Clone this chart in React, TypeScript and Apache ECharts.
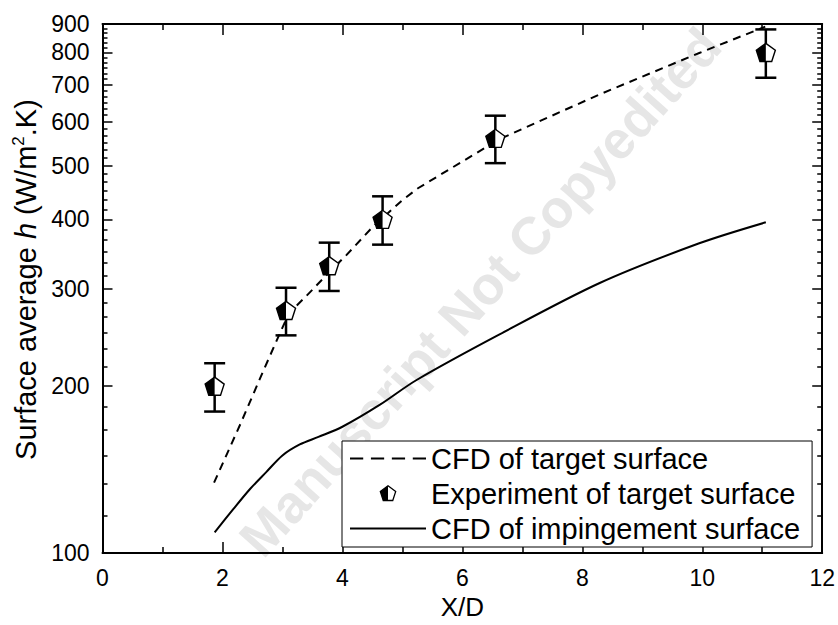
import React, { useEffect, useRef } from "react";
import * as echarts from "echarts";

const FONT = '"Liberation Sans", Arial, Helvetica, sans-serif';

// Experiment of target surface (X/D, h, error)
const X_EXP = [1.87, 3.06, 3.78, 4.67, 6.55, 11.06];
const H_EXP = [200, 274, 330, 400, 560, 800];
const ERR_EXP = [20, 27, 33, 40, 55, 80];

// CFD of target surface
const X_CFD_TARGET = [1.86, 2.3, 2.68, 2.95, 3.07, 3.23, 3.4, 3.78, 4.07, 4.51, 5.0, 5.26, 6.62, 8.29, 9.95, 11.05];
const H_CFD_TARGET = [134, 171, 213, 248, 265, 279, 291, 321, 345, 388, 433, 455, 558, 672, 798, 890];

// CFD of impingement surface
const X_CFD_IMP = [1.87, 2.18, 2.46, 2.73, 3.0, 3.29, 3.6, 4.0, 4.62, 5.23, 6.62, 8.29, 9.95, 11.06];
const H_CFD_IMP = [109, 120, 130.5, 140, 150, 157, 162, 169, 185, 205, 248, 307, 362, 395];

const Y_TICKS = [100, 200, 300, 400, 500, 600, 700, 800, 900];
const X_MIN = 0;
const X_MAX = 12;
const X_STEP = 2;

const lg = (v: number) => Math.log10(v);

const LEGEND_NAMES = ["CFD of target surface", "Experiment of target surface", "CFD of impingement surface"];

const pentSvg =
  '<svg xmlns="http://www.w3.org/2000/svg" width="20" height="20" viewBox="0 0 20 20">' +
  '<polygon points="10,1.5 18.56,7.72 15.29,17.78 4.71,17.78 1.44,7.72" fill="#fff" stroke="none"/>' +
  '<polygon points="10,1.5 1.44,7.72 4.71,17.78 10,17.78" fill="#000"/>' +
  '<polygon points="10,1.5 18.56,7.72 15.29,17.78 4.71,17.78 1.44,7.72" fill="none" stroke="#000" stroke-width="1.4"/>' +
  "</svg>";
const PENT_ICON = "image://data:image/svg+xml;charset=utf-8," + encodeURIComponent(pentSvg);
const DASH_ICON = "path://M0,0h12v2h-12z M19,0h12v2h-12z M38,0h12v2h-12z M57,0h12v2h-12z";
const SOLID_ICON = "path://M0,0h69v2h-69z";

export default function App() {
  const ref = useRef<HTMLDivElement>(null);

  useEffect(() => {
    const chart = echarts.init(ref.current!, null, { renderer: "svg" });
    const yMin = lg(Y_TICKS[0]);
    const yMax = lg(Y_TICKS[Y_TICKS.length - 1]);
    const majorY = Y_TICKS.map(lg);
    const minorY: number[] = [];
    for (let i = 0; i < Y_TICKS.length - 1; i++) {
      const step = (Y_TICKS[i + 1] - Y_TICKS[i]) / 6;
      for (let k = 1; k < 6; k++) minorY.push(lg(Y_TICKS[i] + k * step));
    }

    const axisLineStyle = { color: "#000", width: 2 };
    const tickStyle = { color: "#000", width: 1.5 };

    const yBase = (pos: string) => ({
      type: "value",
      position: pos,
      min: yMin,
      max: yMax,
      splitLine: { show: false },
      minorSplitLine: { show: false },
    });

    const xBase = (pos: string) => ({
      type: "value",
      position: pos,
      min: X_MIN,
      max: X_MAX,
      interval: X_STEP,
      splitLine: { show: false },
      axisLine: { show: true, lineStyle: axisLineStyle },
      axisTick: { show: true, inside: true, length: 11, lineStyle: tickStyle },
      minorTick: { show: true, splitNumber: 2, length: 6, lineStyle: tickStyle },
    });

    const option: any = {
      animation: false,
      backgroundColor: "#fff",
      textStyle: { fontFamily: FONT },
      grid: { left: 102.5, right: 15, top: 24, bottom: 67, containLabel: false },
      graphic: [
        {
          type: "text",
          x: 480,
          y: 292,
          rotation: (48 * Math.PI) / 180,
          silent: true,
          z: 0,
          style: {
            text: "Manuscript Not Copyedited",
            fontSize: 53,
            fontWeight: "bold",
            fontFamily: FONT,
            fill: "#e6e6e6",
            align: "center",
            verticalAlign: "middle",
          },
        },
      ],
      xAxis: [
        {
          ...xBase("bottom"),
          axisLabel: { show: true, fontSize: 23, color: "#000", margin: 13, fontFamily: FONT },
          name: "X/D",
          nameLocation: "middle",
          nameGap: 39,
          nameTextStyle: { fontSize: 26, color: "#000", fontFamily: FONT },
        },
        {
          ...xBase("top"),
          axisLabel: { show: false },
        },
      ],
      yAxis: [
        {
          ...yBase("left"),
          axisLine: { show: true, lineStyle: axisLineStyle },
          axisTick: { show: true, inside: true, length: 10, customValues: majorY, lineStyle: tickStyle },
          axisLabel: {
            show: true,
            customValues: majorY,
            formatter: (v: number) => String(Math.round(Math.pow(10, v))),
            fontSize: 23,
            color: "#000",
            margin: 13,
            fontFamily: FONT,
          },
          name: "{a|Surface average }{i|h}{a| (W/m}{s|2}{a|.K)}",
          nameLocation: "middle",
          nameGap: 52,
          nameTextStyle: {
            color: "#000",
            padding: [0, 0, 0, 18],
            rich: {
              a: { fontSize: 29, fontFamily: FONT, color: "#000", lineHeight: 32 },
              i: { fontSize: 29, fontFamily: FONT, color: "#000", fontStyle: "italic", lineHeight: 32 },
              s: { fontSize: 17, fontFamily: FONT, color: "#000", lineHeight: 17, verticalAlign: "top" },
            },
          },
        },
        {
          ...yBase("left"),
          axisLine: { show: false },
          axisTick: { show: true, inside: true, length: 5, customValues: minorY, lineStyle: tickStyle },
          axisLabel: { show: false },
        },
        {
          ...yBase("right"),
          axisLine: { show: true, lineStyle: axisLineStyle },
          axisTick: { show: true, inside: true, length: 10, customValues: majorY, lineStyle: tickStyle },
          axisLabel: { show: false },
        },
        {
          ...yBase("right"),
          axisLine: { show: false },
          axisTick: { show: true, inside: true, length: 5, customValues: minorY, lineStyle: tickStyle },
          axisLabel: { show: false },
        },
      ],
      legend: {
        orient: "vertical",
        left: 342,
        top: 441,
        padding: [0, 12, 1, 8],
        itemGap: 0,
        itemWidth: 76,
        itemHeight: 18,
        borderColor: "#000",
        borderWidth: 1,
        backgroundColor: "#fff",
        selectedMode: false,
        textStyle: { fontSize: 29, lineHeight: 35, color: "#000", fontFamily: FONT },
        data: [
          { name: LEGEND_NAMES[0], icon: DASH_ICON, itemStyle: { color: "#000" } },
          { name: LEGEND_NAMES[1], icon: PENT_ICON },
          { name: LEGEND_NAMES[2], icon: SOLID_ICON, itemStyle: { color: "#000" } },
        ],
      },
      series: [
        {
          name: LEGEND_NAMES[0],
          type: "line",
          xAxisIndex: 0,
          yAxisIndex: 0,
          symbol: "none",
          z: 3,
          lineStyle: { color: "#000", width: 2, type: [8, 6] },
          itemStyle: { color: "#000" },
          data: X_CFD_TARGET.map((x, i) => [x, lg(H_CFD_TARGET[i])]),
        },
        {
          name: LEGEND_NAMES[1],
          type: "custom",
          xAxisIndex: 0,
          yAxisIndex: 0,
          z: 4,
          itemStyle: { color: "#000" },
          encode: { x: 0, y: 1 },
          data: X_EXP.map((x, i) => [x, lg(H_EXP[i]), lg(H_EXP[i] - ERR_EXP[i]), lg(H_EXP[i] + ERR_EXP[i])]),
          renderItem: (params: any, api: any) => {
            const c = api.coord([api.value(0), api.value(1)]);
            const lo = api.coord([api.value(0), api.value(2)]);
            const hi = api.coord([api.value(0), api.value(3)]);
            const r = 10;
            const cx = c[0];
            const cy = c[1] + 1;
            const pent = [
              [cx, cy - r],
              [cx + 0.951 * r, cy - 0.309 * r],
              [cx + 0.588 * r, cy + 0.809 * r],
              [cx - 0.588 * r, cy + 0.809 * r],
              [cx - 0.951 * r, cy - 0.309 * r],
            ];
            const half = [
              [cx, cy - r],
              [cx - 0.951 * r, cy - 0.309 * r],
              [cx - 0.588 * r, cy + 0.809 * r],
              [cx, cy + 0.809 * r],
            ];
            const cap = 10.5;
            const ebStyle = { stroke: "#000", lineWidth: 2.5 };
            return {
              type: "group",
              children: [
                { type: "line", shape: { x1: lo[0], y1: lo[1], x2: hi[0], y2: hi[1] }, style: ebStyle },
                { type: "line", shape: { x1: lo[0] - cap, y1: lo[1], x2: lo[0] + cap, y2: lo[1] }, style: ebStyle },
                { type: "line", shape: { x1: hi[0] - cap, y1: hi[1], x2: hi[0] + cap, y2: hi[1] }, style: ebStyle },
                { type: "polygon", shape: { points: pent }, style: { fill: "#fff", stroke: "none" } },
                { type: "polygon", shape: { points: half }, style: { fill: "#000", stroke: "none" } },
                { type: "polygon", shape: { points: pent }, style: { fill: "none", stroke: "#000", lineWidth: 1.4 } },
              ],
            };
          },
        },
        {
          name: LEGEND_NAMES[2],
          type: "line",
          xAxisIndex: 0,
          yAxisIndex: 0,
          symbol: "none",
          smooth: 0.3,
          z: 3,
          lineStyle: { color: "#000", width: 2, type: "solid" },
          itemStyle: { color: "#000" },
          data: X_CFD_IMP.map((x, i) => [x, lg(H_CFD_IMP[i])]),
        },
      ],
    };

    chart.setOption(option);
    return () => chart.dispose();
  }, []);

  return (
    <div
      ref={ref}
      style={{ position: "fixed", left: 0, top: 0, width: 838, height: 625 }}
    />
  );
}
